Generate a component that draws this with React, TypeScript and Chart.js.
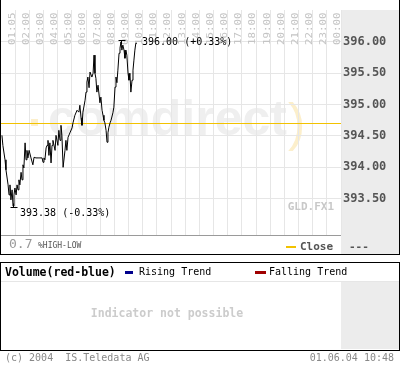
import React, { useEffect, useRef } from "react";
import { Chart, registerables } from "chart.js";

Chart.register(...registerables);

// ---- data ----
const timeLabels = [
  "01:05", "02:00", "03:00", "04:00", "05:00", "06:00", "07:00", "08:00",
  "09:00", "10:00", "11:00", "12:00", "13:00", "14:00", "15:00", "16:00",
  "17:00", "18:00", "19:00", "20:00", "21:00", "22:00", "23:00", "00:00",
];
const hourTicks = [
  60, 120, 180, 240, 300, 360, 420, 480, 540, 600, 660, 720,
  780, 840, 900, 960, 1020, 1080, 1140, 1200, 1260, 1320, 1380, 1440,
];
const minutes = [
  4, 8, 17, 21, 30, 34, 38, 42, 47, 51, 55, 59, 64, 68, 72, 76, 80, 85, 89, 93,
  97, 102, 106, 110, 114, 119, 127, 135, 140, 148, 157, 165, 174, 178, 182, 186,
  191, 195, 199, 203, 207, 212, 216, 220, 229, 233, 241, 245, 250, 254, 258, 263,
  271, 275, 279, 284, 292, 301, 305, 313, 322, 330, 334, 339, 343, 347, 356, 360,
  364, 368, 373, 377, 385, 390, 394, 398, 402, 406, 411, 419, 423, 428, 432, 436,
  440, 445, 449, 453, 457, 462, 466, 474, 478, 483, 487, 491, 495, 500, 504, 508,
  512, 516, 521, 525, 529, 533, 538, 542, 546, 550, 555, 559, 563, 567, 571, 576,
];
const closes = [
  394.51, 394.35, 394.12, 393.96, 393.72, 393.56, 393.72, 393.48, 393.64, 393.38,
  393.56, 393.67, 393.56, 393.72, 393.64, 393.80, 393.72, 393.92, 393.80, 394.04,
  393.99, 394.39, 394.12, 394.27, 394.15, 394.27, 394.15, 394.04, 394.16, 394.15,
  394.15, 394.15, 394.15, 394.08, 394.15, 394.12, 394.31, 394.35, 394.43, 394.19,
  394.39, 394.07, 394.35, 394.43, 394.27, 394.51, 394.35, 394.59, 394.43, 394.67,
  394.51, 394.00, 394.27, 394.43, 394.27, 394.48, 394.55, 394.63, 394.71, 394.83,
  394.91, 394.88, 394.99, 394.79, 394.67, 394.88, 395.07, 395.20, 395.36, 395.44,
  395.27, 395.52, 395.44, 395.50, 395.79, 395.50, 395.42, 395.20, 395.31, 395.03,
  395.12, 394.91, 394.83, 394.75, 394.71, 394.59, 394.40, 394.55, 394.64, 394.71,
  394.75, 394.87, 394.96, 395.28, 395.44, 395.35, 395.55, 395.82, 395.90, 396.00,
  395.87, 395.95, 395.87, 395.74, 395.87, 395.79, 395.50, 395.39, 395.50, 395.20,
  395.39, 395.55, 395.71, 395.87, 395.98, 395.98,
];
const yTickValues = [393.5, 394.0, 394.5, 395.0, 395.5, 396.0];
const prevClose = 394.7;
const spreadPct = "0.7";
const symbol = "GLD.FX1";

const MONO = "'DejaVu Sans Mono', 'Liberation Mono', monospace";

const pct = (v: number) => {
  const p = ((v - prevClose) / prevClose) * 100;
  return (p >= 0 ? "+" : "-") + Math.abs(p).toFixed(2) + "%";
};

const overlayPlugin = {
  id: "overlay",
  beforeDraw(chart: any) {
    const { ctx, chartArea } = chart;
    ctx.save();
    // right grey panel
    ctx.fillStyle = "#ececec";
    ctx.fillRect(chartArea.right, chartArea.top, chart.width - chartArea.right, chart.height - chartArea.top);
    // watermark
    ctx.fillStyle = "#efefef";
    ctx.font = "bold 50px 'Liberation Sans', Arial, sans-serif";
    ctx.textBaseline = "alphabetic";
    ctx.textAlign = "left";
    ctx.fillText("comdirect", 48, 135, 242);
    ctx.fillStyle = "#fcefcb";
    ctx.fillRect(31, 119, 7, 7);
    ctx.font = "52px 'Liberation Sans', Arial, sans-serif";
    ctx.fillText(")", 288, 140);
    ctx.restore();
  },
  beforeDatasetsDraw(chart: any) {
    const { ctx, chartArea, scales } = chart;
    const xs = scales.x;
    const ys = scales.y;
    ctx.save();
    // time labels (rotated)
    ctx.fillStyle = "#c4c4c4";
    ctx.font = "9px " + MONO;
    ctx.textAlign = "left";
    ctx.textBaseline = "middle";
    timeLabels.forEach((lab, i) => {
      const x = xs.getPixelForValue(hourTicks[i]) - 3.5;
      ctx.save();
      ctx.translate(x, 45);
      ctx.rotate(-Math.PI / 2);
      ctx.scale(1.2, 1);
      ctx.fillText(lab, 0, 0.5);
      ctx.restore();
    });
    // previous close line
    const py = Math.round(ys.getPixelForValue(prevClose)) + 0.5;
    ctx.strokeStyle = "#f2c200";
    ctx.lineWidth = 1;
    ctx.beginPath();
    ctx.moveTo(chartArea.left, py);
    ctx.lineTo(chartArea.right, py);
    ctx.stroke();
    ctx.restore();
  },
  afterDatasetsDraw(chart: any) {
    const { ctx, chartArea, scales } = chart;
    const xs = scales.x;
    const ys = scales.y;
    let hi = 0;
    let lo = 0;
    closes.forEach((v, i) => {
      if (v > closes[hi]) hi = i;
      if (v < closes[lo]) lo = i;
    });
    ctx.save();
    ctx.strokeStyle = "#000";
    ctx.lineWidth = 1;
    // high marker
    const hx = Math.round(xs.getPixelForValue(minutes[hi])) + 0.5;
    const hy = Math.round(ys.getPixelForValue(closes[hi])) - 1.5;
    ctx.beginPath();
    ctx.moveTo(hx - 3, hy);
    ctx.lineTo(hx + 4, hy);
    ctx.moveTo(hx, hy);
    ctx.lineTo(hx, hy + 4);
    ctx.stroke();
    // low marker
    const lx = Math.round(xs.getPixelForValue(minutes[lo])) + 0.5;
    const ly = Math.round(ys.getPixelForValue(closes[lo])) + 1.5;
    ctx.beginPath();
    ctx.moveTo(lx - 3, ly);
    ctx.lineTo(lx + 4, ly);
    ctx.moveTo(lx, ly);
    ctx.lineTo(lx, ly - 4);
    ctx.stroke();
    // labels
    ctx.fillStyle = "#000";
    ctx.font = "10px " + MONO;
    ctx.textAlign = "left";
    ctx.textBaseline = "middle";
    const lastX = xs.getPixelForValue(minutes[minutes.length - 1]);
    ctx.fillText(closes[hi].toFixed(2) + " (" + pct(closes[hi]) + ")", lastX + 5, ys.getPixelForValue(closes[hi]));
    ctx.fillText(closes[lo].toFixed(2) + " (" + pct(closes[lo]) + ")", lx + 6.5, ly + 5.5);
    // bottom separator
    ctx.strokeStyle = "#9a9a9a";
    ctx.beginPath();
    ctx.moveTo(chartArea.left, chartArea.bottom + 0.5);
    ctx.lineTo(chartArea.right, chartArea.bottom + 0.5);
    ctx.stroke();
    ctx.restore();
  },
};

function MainChart() {
  const ref = useRef<HTMLCanvasElement | null>(null);
  useEffect(() => {
    if (!ref.current) return;
    const chart = new Chart(ref.current, {
      type: "line",
      data: {
        datasets: [
          {
            data: minutes.map((m, i) => ({ x: m, y: closes[i] })),
            borderColor: "#000",
            borderWidth: 1,
            pointRadius: 0,
            tension: 0,
          },
        ],
      },
      options: {
        animation: false,
        responsive: false,
        devicePixelRatio: 1,
        layout: { padding: { top: 10, left: 1, right: 1, bottom: 20 } },
        plugins: { legend: { display: false }, tooltip: { enabled: false } },
        scales: {
          x: {
            type: "linear",
            min: 0,
            max: 1440,
            afterBuildTicks: (s: any) => {
              s.ticks = hourTicks.map((v) => ({ value: v }));
            },
            ticks: { display: false },
            grid: { color: "#e6e6e6", drawTicks: false },
            border: { display: false },
            afterFit: (s: any) => {
              s.height = 0;
            },
          },
          y: {
            position: "right",
            min: 392.92,
            max: 396.51,
            afterBuildTicks: (s: any) => {
              s.ticks = yTickValues.map((v) => ({ value: v }));
            },
            ticks: {
              color: "#555",
              font: { family: MONO, size: 12, weight: "bold" },
              padding: 2,
              callback: (v: any) => Number(v).toFixed(2),
            },
            grid: { color: "#e6e6e6", drawTicks: false },
            border: { display: false },
            afterFit: (s: any) => {
              s.width = 58;
            },
          },
        },
      } as any,
      plugins: [overlayPlugin],
    });
    return () => chart.destroy();
  }, []);
  return (
    <canvas
      ref={ref}
      width={400}
      height={255}
      style={{ position: "absolute", left: 0, top: 0, width: 400, height: 255 }}
    />
  );
}

function Txt(props: {
  x: number;
  y: number;
  size: number;
  color: string;
  bold?: boolean;
  children: React.ReactNode;
  align?: "left" | "right" | "center";
  w?: number;
}) {
  const h = 16;
  const style: any = {
    position: "absolute",
    top: props.y - h / 2,
    height: h,
    lineHeight: h + "px",
    fontFamily: MONO,
    fontSize: props.size,
    fontWeight: props.bold ? "bold" : "normal",
    color: props.color,
    whiteSpace: "pre",
  };
  if (props.align === "right") {
    style.right = 400 - props.x;
    style.textAlign = "right";
  } else if (props.align === "center") {
    style.left = props.x - (props.w || 200) / 2;
    style.width = props.w || 200;
    style.textAlign = "center";
  } else {
    style.left = props.x;
  }
  return <div style={style}>{props.children}</div>;
}

export default function App() {
  return (
    <div
      style={{
        position: "fixed",
        left: 0,
        top: 0,
        width: 400,
        height: 365,
        background: "#fff",
        overflow: "hidden",
      }}
    >
      <MainChart />
      <Txt x={334} y={207} size={11} color="#c8c8c8" bold align="right">
        {symbol}
      </Txt>
      <Txt x={9} y={244} size={13} color="#999">
        {spreadPct}
      </Txt>
      <Txt x={38} y={246} size={8} color="#555">
        %HIGH-LOW
      </Txt>
      <div style={{ position: "absolute", left: 286, top: 246, width: 10, height: 2, background: "#f2c200" }} />
      <Txt x={300} y={247} size={11} color="#555" bold>
        Close
      </Txt>
      <Txt x={349} y={247} size={11} color="#555" bold>
        ---
      </Txt>
      <div
        style={{
          position: "absolute",
          left: 0,
          top: 0,
          width: 400,
          height: 255,
          boxSizing: "border-box",
          borderLeft: "1px solid #000",
          borderRight: "1px solid #000",
          borderBottom: "1px solid #000",
          pointerEvents: "none",
        }}
      />
      {/* indicator box */}
      <div
        style={{
          position: "absolute",
          left: 0,
          top: 262,
          width: 400,
          height: 89,
          boxSizing: "border-box",
          border: "1px solid #000",
        }}
      />
      <div style={{ position: "absolute", left: 1, top: 281, width: 398, height: 1, background: "#e6e6e6" }} />
      <div style={{ position: "absolute", left: 341, top: 282, width: 58, height: 67, background: "#ececec" }} />
      <Txt x={5} y={272} size={11.5} color="#000" bold>
        Volume(red-blue)
      </Txt>
      <div style={{ position: "absolute", left: 125, top: 271, width: 8, height: 3, background: "#00008c" }} />
      <Txt x={139} y={272} size={10} color="#000">
        Rising Trend
      </Txt>
      <div style={{ position: "absolute", left: 255, top: 271, width: 11, height: 3, background: "#a00000" }} />
      <Txt x={269} y={272} size={10} color="#000">
        Falling Trend
      </Txt>
      <Txt x={167} y={313} size={11.5} color="#cccccc" bold align="center" w={240}>
        Indicator not possible
      </Txt>
      <Txt x={5} y={358} size={10} color="#888">
        {"(c) 2004  IS.Teledata AG"}
      </Txt>
      <Txt x={394} y={358} size={10} color="#888" align="right">
        01.06.04 10:48
      </Txt>
    </div>
  );
}
